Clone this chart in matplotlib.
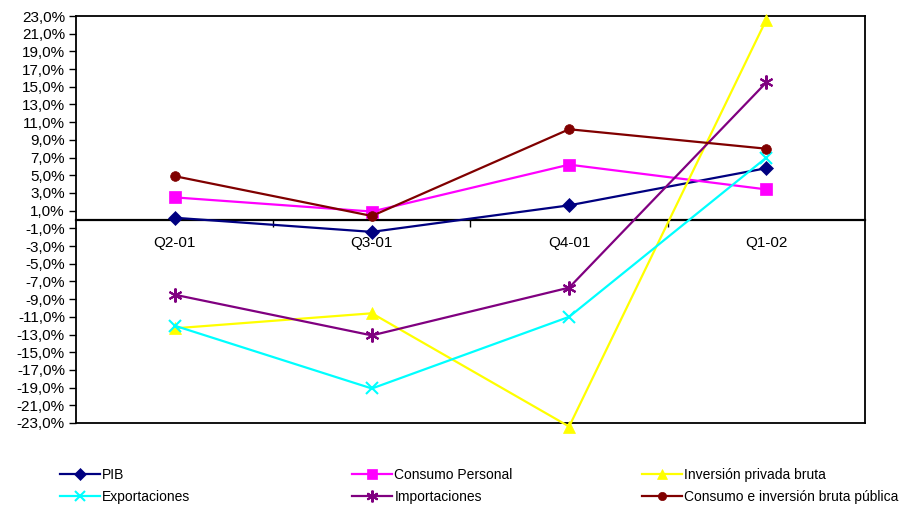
import matplotlib
matplotlib.use("Agg")
import matplotlib.pyplot as plt
from matplotlib import font_manager
from matplotlib.ticker import FuncFormatter

quarters = ["Q2-01", "Q3-01", "Q4-01", "Q1-02"]

pib = [0.2, -1.4, 1.6, 5.8]
consumo_personal = [2.5, 0.9, 6.2, 3.4]
inversion_privada = [-12.3, -10.6, -23.4, 22.6]
exportaciones = [-12.0, -19.1, -11.0, 7.0]
importaciones = [-8.5, -13.1, -7.7, 15.5]
consumo_publico = [4.9, 0.4, 10.2, 8.0]

y_ticks = list(range(-23, 24, 2))

names = {f.name for f in font_manager.fontManager.ttflist}
base_font = "Liberation Sans" if "Liberation Sans" in names else "DejaVu Sans"
narrow_font = "Liberation Sans Narrow" if "Liberation Sans Narrow" in names else base_font
plt.rcParams["font.family"] = [base_font, "DejaVu Sans"]

fig = plt.figure(figsize=(9.03, 5.07), dpi=100)
ax = fig.add_axes([76 / 903, 1 - 423 / 507, (865 - 76) / 903, (423 - 16) / 507])

x = range(len(quarters))
series = [
    ("PIB", pib, "#000080", "D", 7),
    ("Consumo Personal", consumo_personal, "#FF00FF", "s", 8),
    ("Inversión privada bruta", inversion_privada, "#FFFF00", "^", 9),
    ("Exportaciones", exportaciones, "#00FFFF", "x", 9),
    ("Importaciones", importaciones, "#800080", (6, 2, 0), 10),
    ("Consumo e inversión bruta pública", consumo_publico, "#800000", "o", 7),
]
handles = []
for label, vals, col, mk, ms in series:
    ln, = ax.plot(x, vals, color=col, marker=mk, markersize=ms, lw=1.6,
                  markeredgewidth=1.5 if mk in ("x", (6, 2, 0)) else 0.5,
                  markeredgecolor=col, label=label, clip_on=False, zorder=3)
    handles.append(ln)

ax.set_xlim(-0.5, 3.5)
ax.set_ylim(-23, 23)
ax.set_yticks(y_ticks)
ax.yaxis.set_major_formatter(FuncFormatter(lambda v, p: f"{v:.1f}%".replace(".", ",")))
ax.tick_params(axis="y", direction="out", length=5, width=1, labelsize=11, pad=3)

# category axis crosses at zero
ax.spines["bottom"].set_position(("data", 0))
ax.spines["bottom"].set_linewidth(1.6)
for s in ("top", "left", "right"):
    ax.spines[s].set_linewidth(1.3)
ax.plot([0, 1], [0, 0], transform=ax.transAxes, color="black", lw=1.3, clip_on=False)
ax.set_xticks([0.5, 1.5, 2.5])
ax.set_xticklabels([])
ax.set_xticks(list(x), minor=True)
ax.set_xticklabels(quarters, minor=True)
ax.tick_params(axis="x", which="major", direction="out", length=5, width=1)
ax.tick_params(axis="x", which="minor", length=0, labelsize=11, pad=12)

# legend in three columns below the plot
col_x = [60, 352, 642]
groups = [(0, 3), (1, 4), (2, 5)]
for cx, (a, b) in zip(col_x, groups):
    fig.legend([handles[a], handles[b]], [series[a][0], series[b][0]],
               loc="upper left", bbox_to_anchor=(cx / 903, 1 - 468 / 507),
               frameon=False, borderpad=0, borderaxespad=0, handlelength=2.9,
               handletextpad=0.15, labelspacing=0.6,
               prop={"family": narrow_font, "size": 10}, markerscale=0.85)

fig.savefig("out.png", dpi=100)
